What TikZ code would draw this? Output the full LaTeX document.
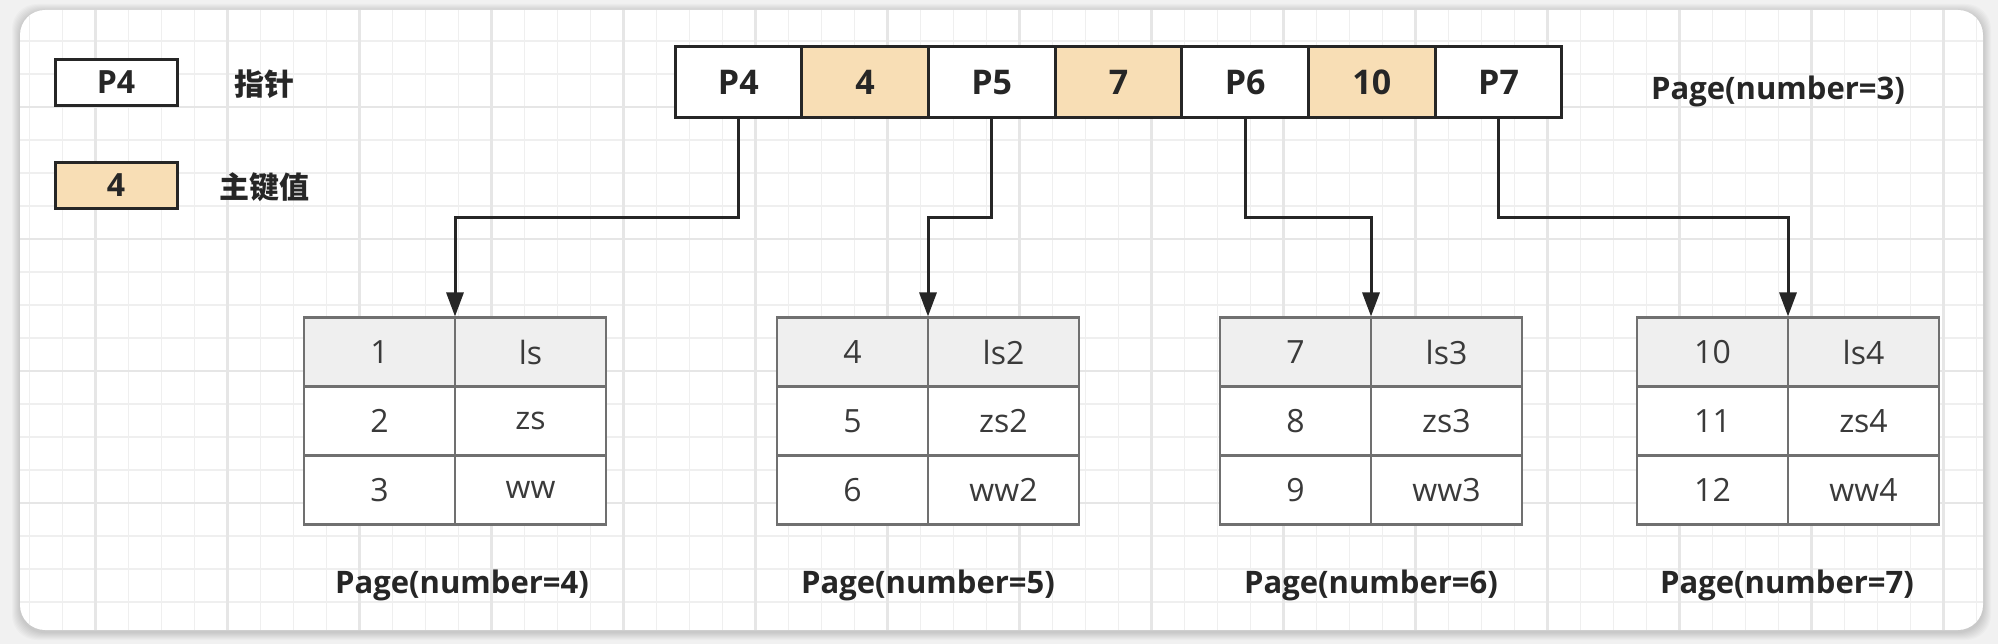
\documentclass[tikz,border=0pt]{standalone}
\usepackage{fontspec}
\setmainfont{Open Sans}
\newfontfamily\cjk{Noto Sans CJK SC}
\usetikzlibrary{arrows.meta}
\definecolor{keyfill}{HTML}{F8DEB5}
\definecolor{hdrfill}{HTML}{EFEFEF}
\definecolor{outbg}{HTML}{F1F1F1}
\definecolor{gridminor}{HTML}{EFEFEF}
\definecolor{gridmajor}{HTML}{E6E6E6}
\definecolor{ink}{HTML}{262626}
\definecolor{tblline}{HTML}{707070}
\definecolor{tbltext}{HTML}{3A3A3A}
\tikzset{
  cell/.style={draw=ink, line width=3pt, minimum width=126.7pt, minimum height=71pt, inner sep=0pt,
    text=ink, font=\fontsize{34}{40}\selectfont\bfseries},
  legbox/.style={draw=ink, line width=3pt, minimum width=122pt, minimum height=46pt, inner sep=0pt,
    text=ink, font=\fontsize{32}{38}\selectfont\bfseries},
  legtext/.style={text=ink, inner sep=0pt, font=\cjk\fontsize{30}{36}\selectfont\bfseries},
  tcell/.style={draw=tblline, line width=2.5pt, minimum width=151pt, minimum height=69pt, inner sep=0pt,
    text=tbltext, font=\fontsize{32}{38}\selectfont},
  pagelbl/.style={text=ink, inner sep=0pt, anchor=base, font=\fontsize{31}{36}\selectfont\bfseries},
  conn/.style={draw=ink, line width=3pt, -{Triangle[width=17pt,length=24pt]}},
}
\begin{document}
\begin{tikzpicture}[x=1pt,y=-1pt]
\useasboundingbox (0,0) rectangle (1998,644);
\fill[outbg] (0,0) rectangle (1998,644);
% card shadow
\foreach \s in {1,...,8}
  \fill[black,opacity=0.018,rounded corners=25pt] (20-\s,10-\s+2) rectangle (1983+\s,630+\s+2);
\fill[white,rounded corners=25pt] (20,10) rectangle (1983,630);
% grid
\begin{scope}
\clip[rounded corners=25pt] (20,10) rectangle (1983,630);
\foreach \k in {0,...,59} \draw[gridminor,line width=1.5pt] (29.7+33*\k,10) -- (29.7+33*\k,630);
\foreach \k in {1,...,18} \draw[gridminor,line width=1.5pt] (20,8+33*\k) -- (1983,8+33*\k);
\foreach \k in {0,...,14} \draw[gridmajor,line width=2.5pt] (95.7+132*\k,10) -- (95.7+132*\k,630);
\foreach \k in {0,...,3} \draw[gridmajor,line width=2.5pt] (20,107+132*\k) -- (1983,107+132*\k);
\end{scope}
% legend
\node[legbox, fill=white] (lp) at (116,82.5) {P4};
\node[legtext] (lpt) at (264,84) {指针};
\node[legbox, fill=keyfill] (lk) at (116,185.5) {4};
\node[legtext] (lkt) at (264,187) {主键值};
% top page
\foreach \t/\f [count=\i] in {P4/white,4/keyfill,P5/white,7/keyfill,P6/white,10/keyfill,P7/white}
  \node[cell, fill=\f] (c\i) at (675+126.7*\i-63.35,82.2) {\t};
\node[pagelbl] (p3) at (1778,100) {Page(number=3)};
% leaf tables
\foreach \n/\s/\lx/\a/\b/\c/\d/\e/\f/\g in {
  1/455/462/1/ls/2/zs/3/ww/4,
  2/928/928/4/ls2/5/zs2/6/ww2/5,
  3/1371/1371/7/ls3/8/zs3/9/ww3/6,
  4/1788/1787/10/ls4/11/zs4/12/ww4/7}{
  \node[tcell, fill=hdrfill] (t\n a1) at (\s-75.5,352) {\a};
  \node[tcell, fill=hdrfill] (t\n b1) at (\s+75.5,352) {\b};
  \node[tcell, fill=white] (t\n a2) at (\s-75.5,421) {\c};
  \node[tcell, fill=white] (t\n b2) at (\s+75.5,421) {\d};
  \node[tcell, fill=white] (t\n a3) at (\s-75.5,490) {\e};
  \node[tcell, fill=white] (t\n b3) at (\s+75.5,490) {\f};
  \coordinate (k\n) at (\s,316.5);
  \node[pagelbl] (pl\n) at (\lx,593) {Page(number=\g)};
}
% connectors
\coordinate (hy) at (0,218);
\draw[conn] (c1.south) -- (c1.south |- hy) -| (k1);
\draw[conn] (c3.south) -- (c3.south |- hy) -| (k2);
\draw[conn] (c5.south) -- (c5.south |- hy) -| (k3);
\draw[conn] (c7.south) -- (c7.south |- hy) -| (k4);
\end{tikzpicture}
\end{document}
